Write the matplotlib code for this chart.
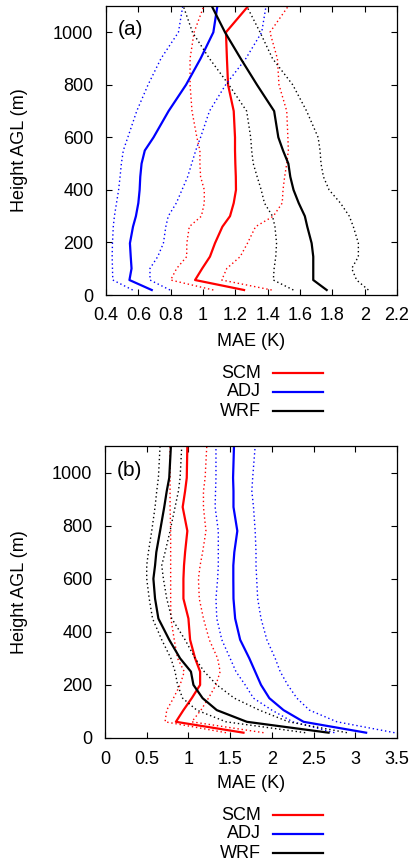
import numpy as np
import matplotlib
matplotlib.use("Agg")
import matplotlib.pyplot as plt
from matplotlib.lines import Line2D
from matplotlib.ticker import FormatStrFormatter

plt.rcParams["font.family"] = ["Liberation Sans", "DejaVu Sans"]
plt.rcParams["font.size"] = 13

# ---- panel (a) ----
z_a = [19, 57, 101, 146, 197, 260, 300, 350, 400, 450, 500, 550, 600, 700, 800, 900, 1000, 1100]
scm_a    = [1.254, 0.951, 0.995, 1.043, 1.074, 1.120, 1.167, 1.190, 1.204, 1.203, 1.200, 1.198, 1.198, 1.190, 1.155, 1.148, 1.142, 1.280]
scm_a_lo = [1.064, 0.800, 0.837, 0.899, 0.900, 0.915, 0.990, 1.008, 1.008, 0.985, 0.981, 0.981, 0.962, 0.932, 0.920, 0.920, 0.945, 1.005]
scm_a_hi = [1.425, 1.116, 1.147, 1.230, 1.275, 1.325, 1.435, 1.490, 1.495, 1.505, 1.518, 1.528, 1.525, 1.518, 1.470, 1.460, 1.414, 1.528]
adj_a    = [0.683, 0.545, 0.558, 0.553, 0.548, 0.567, 0.585, 0.600, 0.608, 0.612, 0.620, 0.640, 0.694, 0.787, 0.895, 0.985, 1.064, 1.089]
adj_a_lo = [0.565, 0.442, 0.440, 0.438, 0.440, 0.445, 0.452, 0.465, 0.478, 0.487, 0.495, 0.507, 0.535, 0.590, 0.660, 0.740, 0.848, 0.875]
adj_a_hi = [0.796, 0.672, 0.672, 0.720, 0.755, 0.770, 0.785, 0.835, 0.870, 0.905, 0.930, 0.955, 0.985, 1.040, 1.140, 1.265, 1.363, 1.390]
wrf_a    = [1.765, 1.682, 1.682, 1.682, 1.672, 1.645, 1.630, 1.592, 1.560, 1.540, 1.528, 1.495, 1.466, 1.440, 1.334, 1.233, 1.136, 1.054]
wrf_a_lo = [1.559, 1.435, 1.440, 1.450, 1.455, 1.445, 1.430, 1.380, 1.360, 1.335, 1.311, 1.301, 1.295, 1.270, 1.160, 1.040, 0.935, 0.878]
wrf_a_hi = [2.023, 1.950, 1.920, 1.961, 1.961, 1.930, 1.905, 1.850, 1.780, 1.745, 1.730, 1.724, 1.712, 1.641, 1.555, 1.430, 1.353, 1.270]

# ---- panel (b) ----
z_b = [20, 61, 105, 150, 200, 250, 300, 370, 450, 525, 600, 650, 700, 780, 870, 930, 980, 1100]
scm_b    = [1.66, 0.85, 0.94, 1.04, 1.14, 1.14, 1.08, 1.02, 1.00, 0.94, 0.94, 0.947, 0.96, 0.987, 0.931, 0.96, 0.98, 0.987]
scm_b_lo = [1.45, 0.72, 0.74, 0.82, 0.90, 0.95, 0.87, 0.83, 0.79, 0.787, 0.787, 0.787, 0.787, 0.787, 0.78, 0.78, 0.78, 0.78]
scm_b_hi = [1.90, 1.04, 1.15, 1.24, 1.33, 1.38, 1.35, 1.25, 1.18, 1.13, 1.12, 1.14, 1.17, 1.21, 1.18, 1.18, 1.20, 1.22]
adj_b    = [3.13, 2.38, 2.14, 1.97, 1.87, 1.80, 1.73, 1.62, 1.56, 1.54, 1.538, 1.538, 1.55, 1.586, 1.54, 1.54, 1.535, 1.546]
adj_b_lo = [2.75, 2.25, 2.00, 1.78, 1.68, 1.57, 1.50, 1.40, 1.34, 1.33, 1.35, 1.358, 1.358, 1.358, 1.32, 1.325, 1.33, 1.33]
adj_b_hi = [3.47, 2.78, 2.45, 2.30, 2.19, 2.10, 2.04, 1.94, 1.87, 1.83, 1.818, 1.81, 1.81, 1.80, 1.78, 1.76, 1.77, 1.80]
wrf_b    = [2.68, 1.70, 1.34, 1.17, 1.06, 1.03, 0.90, 0.77, 0.64, 0.60, 0.58, 0.60, 0.615, 0.66, 0.71, 0.74, 0.77, 0.79]
wrf_b_lo = [2.40, 1.45, 1.10, 0.93, 0.87, 0.84, 0.79, 0.68, 0.57, 0.53, 0.50, 0.50, 0.52, 0.56, 0.60, 0.62, 0.64, 0.66]
wrf_b_hi = [2.90, 2.20, 1.85, 1.55, 1.34, 1.19, 1.08, 0.96, 0.80, 0.74, 0.70, 0.68, 0.72, 0.78, 0.84, 0.88, 0.90, 0.92]

labels = ["SCM", "ADJ", "WRF"]
colors = ["#ff0000", "#0000ff", "#000000"]

fig = plt.figure(figsize=(4.14, 8.6), dpi=100)
W, H = 414.0, 860.0


def px_axes(left, top, right, bottom):
    return fig.add_axes([left / W, 1 - bottom / H, (right - left) / W, (bottom - top) / H])


def panel(ax, z, series, xlim, xticks, tag):
    for (mean, lo, hi), c in zip(series, colors):
        ax.plot(lo, z, color=c, lw=1.0, ls=(0, (1, 2)))
        ax.plot(hi, z, color=c, lw=1.0, ls=(0, (1, 2)))
        ax.plot(mean, z, color=c, lw=1.6)
    ax.set_xlim(*xlim)
    ax.set_ylim(0, 1100)
    ax.set_xticks(xticks)
    ax.set_yticks(np.arange(0, 1001, 200))
    ax.xaxis.set_major_formatter(FormatStrFormatter("%g"))
    ax.tick_params(direction="in", length=4, width=0.8, top=True, right=True,
                   labelsize=13)
    ax.tick_params(axis="x", pad=9)
    ax.tick_params(axis="y", pad=9)
    for s in ax.spines.values():
        s.set_linewidth(0.9)
    ax.set_xlabel("MAE (K)", fontsize=13)
    ax.set_ylabel("Height AGL (m)", fontsize=13)
    ax.text(0.04, 0.95, tag, transform=ax.transAxes, fontsize=15,
            ha="left", va="top")


ax1 = px_axes(106, 6, 397, 295)
panel(ax1, z_a,
      [(scm_a, scm_a_lo, scm_a_hi), (adj_a, adj_a_lo, adj_a_hi), (wrf_a, wrf_a_lo, wrf_a_hi)],
      (0.4, 2.2), np.arange(0.4, 2.21, 0.2), "(a)")
ax1.xaxis.set_label_coords(0.5, (295 - 333) / 289.0)
ax1.yaxis.set_label_coords((28 - 106) / 291.0, 0.5)

ax2 = px_axes(105, 446, 397, 738)
panel(ax2, z_b,
      [(scm_b, scm_b_lo, scm_b_hi), (adj_b, adj_b_lo, adj_b_hi), (wrf_b, wrf_b_lo, wrf_b_hi)],
      (0, 3.5), np.arange(0, 3.51, 0.5), "(b)")
ax2.xaxis.set_label_coords(0.5, (738 - 775) / 292.0)
ax2.yaxis.set_label_coords((28 - 105) / 292.0, 0.5)

# legends below each panel (text right-aligned, line sample to the right)
for y0 in (373, 815):
    for i, (lab, c) in enumerate(zip(labels, colors)):
        y = 1 - (y0 + i * 19) / H
        fig.text(261 / W, y, lab, ha="right", va="center", fontsize=13)
        fig.add_artist(Line2D([273 / W, 323 / W], [y, y], color=c, lw=1.6,
                              transform=fig.transFigure))

fig.savefig("out.png", dpi=100)
